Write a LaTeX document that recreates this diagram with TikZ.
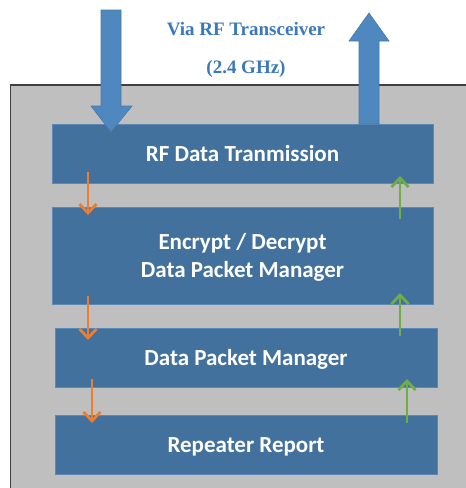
\documentclass[tikz,border=0pt]{standalone}
\usepackage{fontspec}
\setmainfont{Carlito}
\newfontfamily\serifbold{Liberation Serif}
\usetikzlibrary{arrows.meta}
\definecolor{panelgray}{HTML}{BFBFBF}
\definecolor{panelline}{HTML}{404040}
\definecolor{boxblue}{HTML}{43719E}
\definecolor{boxedge}{HTML}{5B88B4}
\definecolor{bigblue}{HTML}{4F87BF}
\definecolor{bigedge}{HTML}{4679AD}
\definecolor{titleblue}{HTML}{3A79BD}
\definecolor{downorange}{HTML}{ED7D31}
\definecolor{upgreen}{HTML}{70AD47}
\tikzset{
  layer/.style={rectangle, fill=boxblue, draw=boxedge, line width=0.8pt, inner sep=0pt,
    text=white, font=\fontsize{23}{28}\selectfont\bfseries, align=center,
    text height=15pt, text depth=0pt},
  downflow/.style={draw=downorange, line width=2.8pt, -{Straight Barb[length=9pt,width=17pt]}},
  upflow/.style={draw=upgreen, line width=2.8pt, -{Straight Barb[length=9pt,width=17pt]}},
  bigarrow/.style={fill=bigblue, draw=bigedge, line width=0.6pt, line join=miter}
}
\begin{document}
\begin{tikzpicture}[x=1pt,y=-1pt]
\useasboundingbox (0,0) rectangle (466,488);
\fill[white] (0,0) rectangle (466,488);
% panel
\begin{scope}
\clip (0,0) rectangle (466,488);
\draw[fill=panelgray, draw=panelline, line width=1.3pt] (10.5,85) rectangle (475,495);
\end{scope}
% layers
\node[layer, minimum width=381pt, minimum height=59pt] (rf) at (242.5,153.5) {RF Data Tranmission};
\node[layer, minimum width=381pt, minimum height=97pt, text height=43pt] (enc) at (242.5,255.5) {Encrypt / Decrypt\\Data Packet Manager};
\node[layer, minimum width=382pt, minimum height=59pt] (dpm) at (246,357.5) {Data Packet Manager};
\node[layer, minimum width=382pt, minimum height=59pt] (rep) at (246,444.5) {Repeater Report};
% title
\node[font=\serifbold\fontsize{19}{38}\selectfont\bfseries, text=titleblue, align=center] (title) at (246,50) {Via RF Transceiver\\(2.4 GHz)};
% big arrows
\coordinate (inTop) at (111,10);
\coordinate (outTip) at (369,13);
\draw[bigarrow] (inTop) ++(-10,0) -- ++(20,0) -- ++(0,96) -- ++(11,0) -- (111,132) -- (91,106) -- (101,106) -- cycle;
\draw[bigarrow] (outTip) -- (389,41) -- (379,41) -- (379,124) -- (359,124) -- (359,41) -- (349,41) -- cycle;
% small flow arrows
\coordinate (d1s) at (88,172); \coordinate (d1e) at (88,215);
\coordinate (d2s) at (88,296); \coordinate (d2e) at (88,340);
\coordinate (d3s) at (92,379); \coordinate (d3e) at (92,423);
\coordinate (u1s) at (400,219); \coordinate (u1e) at (400,176);
\coordinate (u2s) at (400,336); \coordinate (u2e) at (400,293);
\coordinate (u3s) at (407,423); \coordinate (u3e) at (407,379);
\draw[downflow] (d1s) -- (d1e);
\draw[downflow] (d2s) -- (d2e);
\draw[downflow] (d3s) -- (d3e);
\draw[upflow] (u1s) -- (u1e);
\draw[upflow] (u2s) -- (u2e);
\draw[upflow] (u3s) -- (u3e);
\end{tikzpicture}
\end{document}
